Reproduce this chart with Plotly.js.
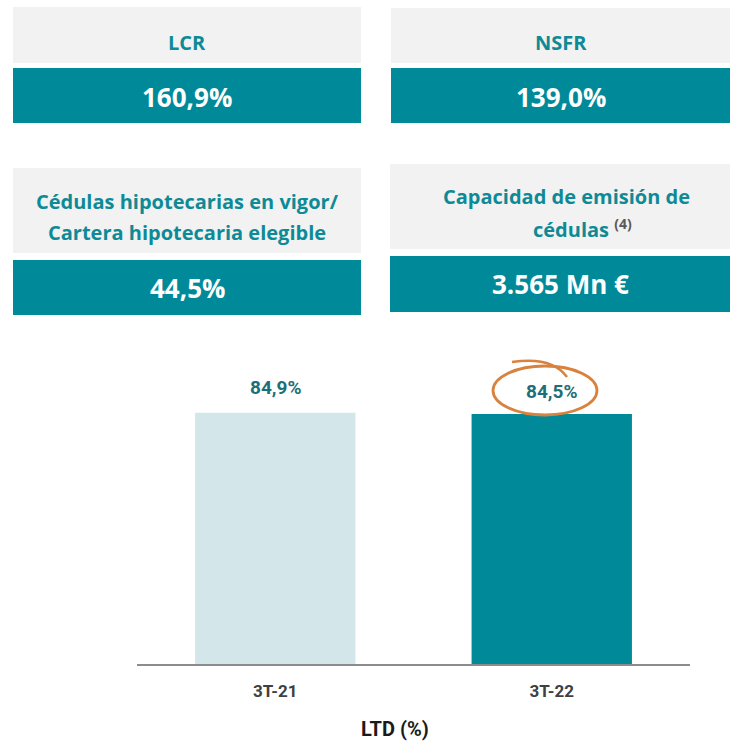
<!DOCTYPE html>
<html>
<head>
<meta charset="utf-8">
<script src="https://cdn.plot.ly/plotly-3.0.1.min.js"></script>
<style>html,body{margin:0;padding:0;background:#fff;}#chart{width:730px;height:741px;}</style>
</head>
<body>
<div id="chart"></div>
<script>
// ---- data ----
const categories = ['3T-21', '3T-22'];
const ltdValues = [84.9, 84.5];
const kpiTitles = [
  ['LCR'],
  ['NSFR'],
  ['Cédulas hipotecarias en vigor/', 'Cartera hipotecaria elegible'],
  ['Capacidad de emisión de', 'cédulas <sup><span style="color:#595959">(4)</span></sup>']
];
const kpiValues = ['160,9%', '139,0%', '44,5%', '3.565 Mn €'];
const axisTitle = 'LTD (%)';

// ---- styling ----
const W = 730, H = 741;
const TEAL = '#008A99';
const GREY = '#F2F2F2';
const LIGHT = '#D3E7EA';
const px = x => x / W;
const py = y => 1 - y / H;

// card geometry (pixels)
const cards = [
  {x0: 13, x1: 361, gy0: 7, gy1: 63, ty0: 68, ty1: 123, lines: [43], shifts: [0], val: 97},
  {x0: 391, x1: 730, gy0: 8, gy1: 63, ty0: 68, ty1: 123, lines: [43], shifts: [0], val: 97},
  {x0: 13, x1: 361, gy0: 168, gy1: 253, ty0: 260, ty1: 315, lines: [201, 233], shifts: [0, 0], val: 288},
  {x0: 390, x1: 730, gy0: 164, gy1: 249, ty0: 256, ty1: 312, lines: [197, 229], shifts: [6, 22], val: 284}
];

const shapes = [];
const annotations = [];
const cardFont = 'Open Sans, Noto Sans, sans-serif';
cards.forEach((c, i) => {
  shapes.push({type: 'rect', xref: 'paper', yref: 'paper', x0: px(c.x0), x1: px(c.x1), y0: py(c.gy1), y1: py(c.gy0), fillcolor: GREY, line: {width: 0}, layer: 'below'});
  shapes.push({type: 'rect', xref: 'paper', yref: 'paper', x0: px(c.x0), x1: px(c.x1), y0: py(c.ty1), y1: py(c.ty0), fillcolor: TEAL, line: {width: 0}, layer: 'below'});
  kpiTitles[i].forEach((t, j) => {
    annotations.push({xref: 'paper', yref: 'paper', x: px((c.x0 + c.x1) / 2), y: py(c.lines[j]), xshift: c.shifts[j],
      text: t, showarrow: false, xanchor: 'center', yanchor: 'middle', align: 'center',
      font: {family: cardFont, size: 20, color: '#0E8A96', weight: 'bold'}});
  });
  annotations.push({xref: 'paper', yref: 'paper', x: px((c.x0 + c.x1) / 2), y: py(c.val),
    text: kpiValues[i], showarrow: false, xanchor: 'center', yanchor: 'middle',
    font: {family: cardFont, size: 26, color: '#FFFFFF', weight: 'bold'}});
});

const narrow = 'Roboto, Liberation Sans, sans-serif';

// value labels above bars
categories.forEach((c, i) => {
  annotations.push({xref: 'x', yref: 'y', x: c, y: ltdValues[i], yanchor: 'bottom', yshift: i === 1 ? 9 : 12,
    text: ltdValues[i].toFixed(1).replace('.', ',') + '%', showarrow: false,
    font: {family: narrow, size: 19, color: '#1D6F78', weight: 'bold'}});
});

// axis title
annotations.push({xref: 'paper', yref: 'paper', x: px(395), y: py(729), xanchor: 'center', yanchor: 'middle',
  text: axisTitle, showarrow: false, font: {family: narrow, size: 20, color: '#1A1A1A', weight: 'bold'}});

// orange hand-drawn ellipse
shapes.push({type: 'circle', xref: 'paper', yref: 'paper', x0: px(493), x1: px(597), y0: py(415), y1: py(366),
  line: {color: '#D9823E', width: 2.8}, fillcolor: 'rgba(0,0,0,0)'});
shapes.push({type: 'path', xref: 'paper', yref: 'paper',
  path: `M ${px(512)} ${py(362)} Q ${px(552)} ${py(356)} ${px(567)} ${py(377)}`,
  line: {color: '#D9823E', width: 2.5}});

const data = [{
  type: 'bar', x: categories, y: ltdValues,
  marker: {color: [LIGHT, TEAL]}, width: 0.58,
  hoverinfo: 'skip'
}];

const layout = {
  width: W, height: H,
  margin: {l: 0, r: 0, t: 0, b: 0},
  paper_bgcolor: '#fff', plot_bgcolor: '#fff',
  showlegend: false,
  xaxis: {domain: [px(137), px(690)], range: [-0.5, 1.5], type: 'category',
    showline: true, linecolor: '#8C8C8C', linewidth: 1.5, showgrid: false, zeroline: false,
    ticks: '', ticklabelstandoff: 11,
    tickfont: {family: narrow, size: 17, color: '#404040', weight: 'bold'}},
  yaxis: {domain: [py(664), py(368)], range: [0, 100], visible: false, showgrid: false, zeroline: false},
  shapes: shapes,
  annotations: annotations
};

Plotly.newPlot('chart', data, layout, {staticPlot: true, displayModeBar: false});
</script>
</body>
</html>
